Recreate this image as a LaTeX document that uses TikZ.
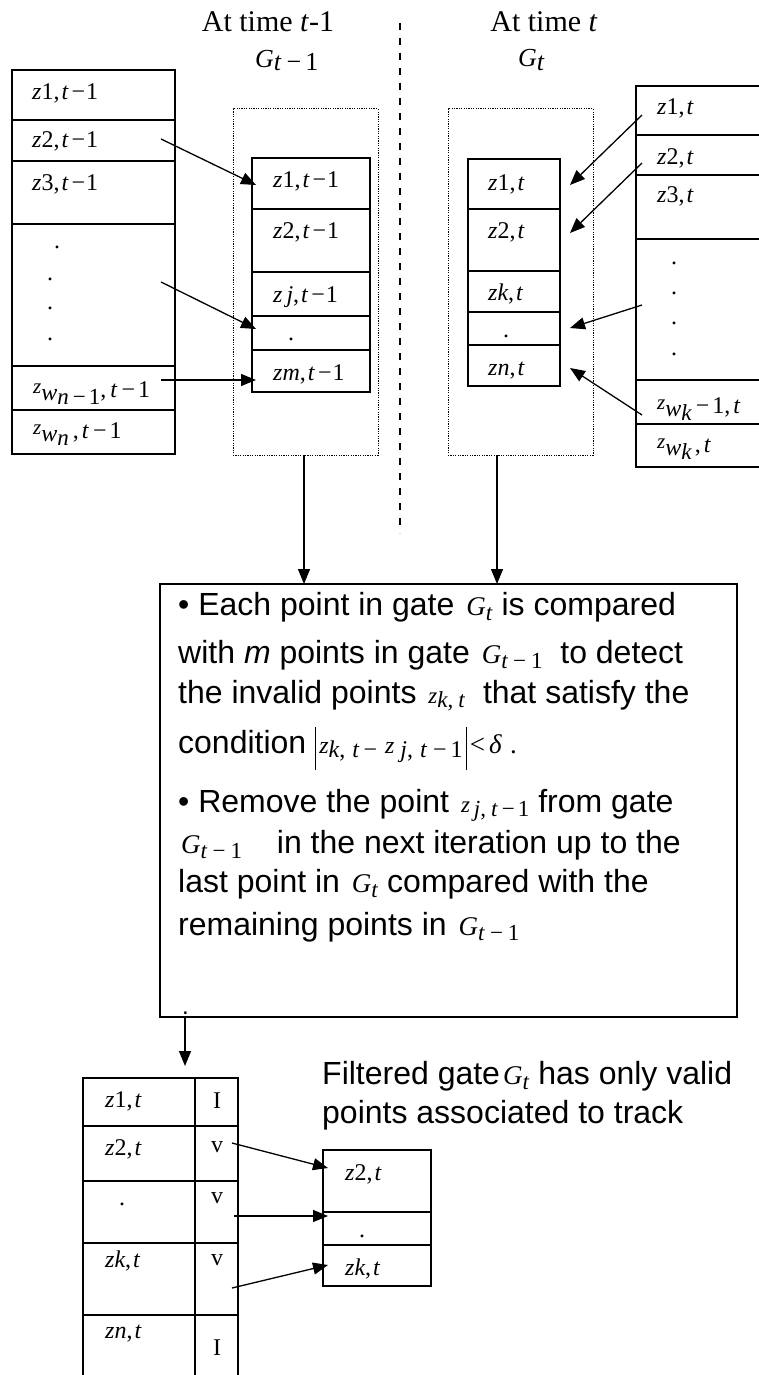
\documentclass[tikz,border=0pt]{standalone}
\usepackage{fontspec}
\setmainfont{Liberation Serif}
\newfontfamily\arialf{Liberation Sans}
\usetikzlibrary{arrows.meta}
\newcommand\fs[1]{\fontsize{#1}{#1}\selectfont}
\newcommand\zi{\textit{z}}
\newcommand\ti{\textit{t}}
\newcommand\lw[2]{\raisebox{-#1pt}{#2}}
% table labels
\newcommand\ztm[1]{\zi#1,\hspace{2pt}\ti\hspace{3pt}−\hspace{1pt}1}
\newcommand\zt[1]{\zi#1,\hspace{2pt}\ti}
% maths inside the sans text
\newcommand\mG{\hspace{3pt}{\rmfamily\fs{27}\textit{G}\lw{5}{\fs{23}\textit{t}}}}
\newcommand\mGm{\hspace{3pt}{\rmfamily\fs{27}\textit{G}\lw{5}{\fs{23}\textit{t}\hspace{5pt}−\hspace{5pt}1}}}
\newcommand\mzk{\hspace{3pt}{\rmfamily\fs{23}\textit{z}\lw{4}{\textit{k},\hspace{5pt}\textit{t}}}}
\newcommand\mzj{\hspace{3pt}{\rmfamily\fs{23}\textit{z}\hspace{4pt}\lw{4}{\textit{j},\hspace{5pt}\textit{t}\hspace{4pt}−\hspace{3pt}1}}}
\tikzset{
  cell/.style={draw, line width=1.3pt, inner sep=0pt, outer sep=0pt},
  gatebox/.style={draw, line width=1pt, dash pattern=on 1.2pt off 1.2pt, inner sep=0pt, outer sep=0pt},
  lbl/.style={anchor=base west, inner sep=0pt, font=\fs{24}},
  dotlbl/.style={anchor=base, inner sep=0pt, font=\fs{24}},
  head/.style={anchor=base, inner sep=0pt, font=\fs{30}},
  body/.style={anchor=base west, inner sep=0pt, font=\arialf\fs{32}},
  arr/.style={-{Triangle[length=15pt,width=12pt]}, line width=1.3pt},
}
\begin{document}
\begin{tikzpicture}[x=1pt,y=-1pt]
\useasboundingbox (0,0) rectangle (759,1375);
\clip (0,0) rectangle (759,1375);

% headers
\node[head] (h1) at (268,32) {At time \textit{t}-1};
\node[lbl, font=\fs{26}] (g1) at (255,68) {\textit{G}\lw{3}{\textit{t}\hspace{5pt}−\hspace{4pt}1}};
\node[head] (h2) at (544,32) {At time \textit{t}};
\node[lbl, font=\fs{26}] (g2) at (518,67) {\textit{G}\lw{4}{\textit{t}}};

% divider
\coordinate (dvt) at (400,23);
\coordinate (dvb) at (400,533);
\draw[line width=1.3pt, dash pattern=on 7pt off 8pt] (dvt) -- (dvb);

% left table
\node[cell, minimum width=163pt, minimum height=50pt]  (L1) at (93.5,95) {};
\node[cell, minimum width=163pt, minimum height=41pt]  (L2) at (93.5,140.5) {};
\node[cell, minimum width=163pt, minimum height=63pt]  (L3) at (93.5,192.5) {};
\node[cell, minimum width=163pt, minimum height=142pt] (L4) at (93.5,295) {};
\node[cell, minimum width=163pt, minimum height=44pt]  (L5) at (93.5,388) {};
\node[cell, minimum width=163pt, minimum height=44pt]  (L6) at (93.5,432) {};
\node[lbl] (tL1) at (32,100) {\ztm1};
\node[lbl] (tL2) at (32,148) {\ztm2};
\node[lbl] (tL3) at (32,190) {\ztm3};
\node[dotlbl] (dL1) at (57,248) {.};
\node[dotlbl] (dL2) at (50,280) {.};
\node[dotlbl] (dL3) at (50,309) {.};
\node[dotlbl] (dL4) at (50,340) {.};
\node[lbl] (tL5) at (33,397) {\raisebox{4pt}{\fs{21}\zi}\lw{3}{\textit{w}\lw{4}{\fs{23}\textit{n}\hspace{4pt}−\hspace{3pt}1}},\hspace{4pt}\ti\hspace{4pt}−\hspace{3pt}1};
\node[lbl] (tL6) at (33,438) {\raisebox{4pt}{\fs{21}\zi}\lw{3}{\textit{w}\lw{4}{\fs{23}\textit{n}}}\hspace{4pt},\hspace{3pt}\ti\hspace{4pt}−\hspace{3pt}1};

% middle gate
\node[gatebox, minimum width=145pt, minimum height=346pt] (G1) at (305.5,282) {};
\node[cell, minimum width=118pt, minimum height=51pt] (M1) at (311,183.5) {};
\node[cell, minimum width=118pt, minimum height=63pt] (M2) at (311,240.5) {};
\node[cell, minimum width=118pt, minimum height=44pt] (M3) at (311,294) {};
\node[cell, minimum width=118pt, minimum height=34pt] (M4) at (311,333) {};
\node[cell, minimum width=118pt, minimum height=42pt] (M5) at (311,371) {};
\node[lbl] (tM1) at (273,187) {\ztm1};
\node[lbl] (tM2) at (273,238) {\ztm2};
\node[lbl] (tM3) at (273,302) {\ztm{\hspace{4pt}\textit{j}}};
\node[dotlbl] (tM4) at (291,340) {.};
\node[lbl] (tM5) at (273,380) {\ztm{\textit{m}}};

% right gate
\node[gatebox, minimum width=145pt, minimum height=346pt] (G2) at (520.5,282) {};
\node[cell, minimum width=92pt, minimum height=50pt] (R1) at (514,184) {};
\node[cell, minimum width=92pt, minimum height=62pt] (R2) at (514,240) {};
\node[cell, minimum width=92pt, minimum height=41pt] (R3) at (514,291.5) {};
\node[cell, minimum width=92pt, minimum height=33pt] (R4) at (514,328.5) {};
\node[cell, minimum width=92pt, minimum height=41pt] (R5) at (514,365.5) {};
\node[lbl] (tR1) at (488,190) {\zt1};
\node[lbl] (tR2) at (488,238) {\zt2};
\node[lbl] (tR3) at (488,300) {\zt{\textit{k}}};
\node[dotlbl] (tR4) at (506,337) {.};
\node[lbl] (tR5) at (488,375) {\zt{\textit{n}}};

% right table
\node[cell, minimum width=134pt, minimum height=49pt]  (T1) at (703,110.5) {};
\node[cell, minimum width=134pt, minimum height=40pt]  (T2) at (703,155) {};
\node[cell, minimum width=134pt, minimum height=64pt]  (T3) at (703,207) {};
\node[cell, minimum width=134pt, minimum height=141pt] (T4) at (703,309.5) {};
\node[cell, minimum width=134pt, minimum height=44pt]  (T5) at (703,402) {};
\node[cell, minimum width=134pt, minimum height=43pt]  (T6) at (703,445.5) {};
\node[lbl] (tT1) at (657,115) {\zt1};
\node[lbl] (tT2) at (657,165) {\zt2};
\node[lbl] (tT3) at (657,202) {\zt3};
\node[dotlbl] (dT1) at (674,264) {.};
\node[dotlbl] (dT2) at (674,294) {.};
\node[dotlbl] (dT3) at (674,324) {.};
\node[dotlbl] (dT4) at (674,355) {.};
\node[lbl] (tT5) at (657,413) {\raisebox{4pt}{\fs{21}\zi}\lw{3}{\textit{w}\lw{4}{\fs{23}\textit{k}}}\hspace{4pt}−\hspace{3pt}1,\hspace{3pt}\ti};
\node[lbl] (tT6) at (657,452) {\raisebox{4pt}{\fs{21}\zi}\lw{3}{\textit{w}\lw{4}{\fs{23}\textit{k}}}\hspace{3pt},\hspace{3pt}\ti};

% arrows top
\coordinate (a1s) at (161,139); \coordinate (a1e) at (256,185);
\coordinate (a2s) at (161,282); \coordinate (a2e) at (256,329);
\coordinate (a3s) at (161,380); \coordinate (a3e) at (256,380);
\draw[arr] (a1s) -- (a1e);
\draw[arr] (a2s) -- (a2e);
\draw[arr] (a3s) -- (a3e);
\coordinate (b1s) at (642,115); \coordinate (b1e) at (570,185);
\coordinate (b2s) at (642,163); \coordinate (b2e) at (570,233);
\coordinate (b3s) at (642,305); \coordinate (b3e) at (570,328);
\coordinate (b4s) at (642,415); \coordinate (b4e) at (570,368);
\draw[arr] (b1s) -- (b1e);
\draw[arr] (b2s) -- (b2e);
\draw[arr] (b3s) -- (b3e);
\draw[arr] (b4s) -- (b4e);

% text box
\node[cell, minimum width=577pt, minimum height=433pt] (X) at (448.5,800.5) {};
\coordinate (c1) at (304,455);
\coordinate (c2) at (497,455);
\draw[arr] (c1) -- (c1 |- X.north);
\draw[arr] (c2) -- (c2 |- X.north);

\node[body] (x1) at (178,615) {• Each point in gate \mG\ is compared};
\node[body] (x2) at (178,663) {with \textit{m} points in gate \mGm\ \ to detect};
\node[body] (x3) at (178,703) {the invalid points \mzk\ \ that satisfy the};
\node[body] (x4) at (178,753) {condition \rule[-17pt]{1.2pt}{43pt}{\rmfamily\fs{24}\hspace{3pt}\textit{z}\lw{4}{\textit{k},\hspace{7pt}\textit{t}\hspace{4pt}−}\hspace{8pt}\textit{z}\hspace{6pt}\lw{4}{\textit{j},\hspace{7pt}\textit{t}\hspace{6pt}−\hspace{4pt}1}\hspace{3pt}}\rule[-17pt]{1.2pt}{43pt}\hspace{3pt}{\rmfamily\fs{27}<\hspace{4pt}\textit{δ}\hspace{8pt}.}};
\node[body] (x5) at (178,812) {• Remove the point \mzj\ from gate};
\node[body] (x6) at (178,853) {\mGm\hspace{26pt} in the next iteration up to the};
\node[body] (x7) at (178,892) {last point in \mG\ compared with the};
\node[body] (x8) at (178,935) {remaining points in \mGm};
\node[body, font=\arialf\fs{24}] (x9) at (182,1014) {.};

% down arrow
\coordinate (d1) at (185,1017);
\coordinate (d2) at (185,1066);
\draw[arr] (d1) -- (d2);

% bottom table
\node[cell, minimum width=112pt, minimum height=48pt] (B1) at (139,1102) {};
\node[cell, minimum width=43pt,  minimum height=48pt] (V1) at (216.5,1102) {};
\node[cell, minimum width=112pt, minimum height=55pt] (B2) at (139,1153.5) {};
\node[cell, minimum width=43pt,  minimum height=55pt] (V2) at (216.5,1153.5) {};
\node[cell, minimum width=112pt, minimum height=62pt] (B3) at (139,1212) {};
\node[cell, minimum width=43pt,  minimum height=62pt] (V3) at (216.5,1212) {};
\node[cell, minimum width=112pt, minimum height=72pt] (B4) at (139,1279) {};
\node[cell, minimum width=43pt,  minimum height=72pt] (V4) at (216.5,1279) {};
\node[cell, minimum width=112pt, minimum height=75pt] (B5) at (139,1352.5) {};
\node[cell, minimum width=43pt,  minimum height=75pt] (V5) at (216.5,1352.5) {};
\node[lbl] (tB1) at (105,1107) {\zt1};
\node[dotlbl] (tV1) at (217,1108) {I};
\node[lbl] (tB2) at (105,1155) {\zt2};
\node[dotlbl] (tV2) at (217,1152) {v};
\node[dotlbl] (tB3) at (122,1205) {.};
\node[dotlbl] (tV3) at (217,1203) {v};
\node[lbl] (tB4) at (105,1267) {\zt{\textit{k}}};
\node[dotlbl] (tV4) at (217,1265) {v};
\node[lbl] (tB5) at (105,1338) {\zt{\textit{n}}};
\node[dotlbl] (tV5) at (217,1355) {I};

% filtered gate
\node[body] (f1) at (322,1084) {Filtered gate\mG\ has only valid};
\node[body] (f2) at (322,1123) {points associated to track};
\node[cell, minimum width=108pt, minimum height=62pt] (F1) at (377,1181) {};
\node[cell, minimum width=108pt, minimum height=33pt] (F2) at (377,1228.5) {};
\node[cell, minimum width=108pt, minimum height=41pt] (F3) at (377,1265.5) {};
\node[lbl] (tF1) at (345,1180) {\zt2};
\node[dotlbl] (tF2) at (362,1237) {.};
\node[lbl] (tF3) at (345,1275) {\zt{\textit{k}}};

\coordinate (e1s) at (232,1143); \coordinate (e1e) at (328,1168);
\coordinate (e2s) at (234,1216); \coordinate (e2e) at (328,1216);
\coordinate (e3s) at (232,1288); \coordinate (e3e) at (328,1265);
\draw[arr] (e1s) -- (e1e);
\draw[arr] (e2s) -- (e2e);
\draw[arr] (e3s) -- (e3e);
\end{tikzpicture}
\end{document}
